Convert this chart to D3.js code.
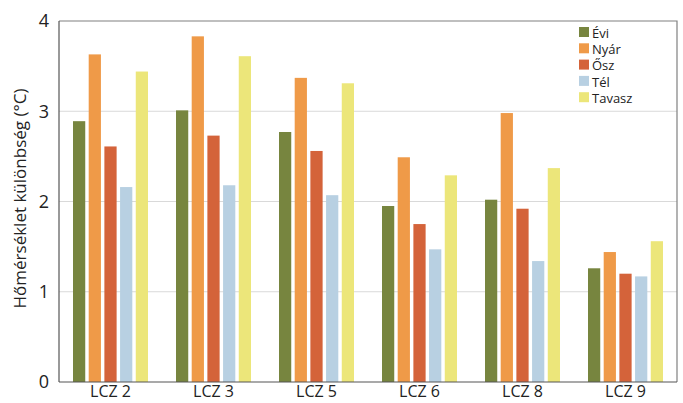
<!DOCTYPE html>
<html><head><meta charset="utf-8">
<script src="https://cdn.jsdelivr.net/npm/d3@7"></script>
<style>body{margin:0;background:#fff;} svg{display:block;}</style>
</head><body>
<script>
const categories = ["LCZ 2","LCZ 3","LCZ 5","LCZ 6","LCZ 8","LCZ 9"];
const seriesNames = ["Évi","Nyár","Ősz","Tél","Tavasz"];
const evi    = [2.89, 3.01, 2.77, 1.95, 2.02, 1.26];
const nyar   = [3.63, 3.83, 3.37, 2.49, 2.98, 1.44];
const osz    = [2.61, 2.73, 2.56, 1.75, 1.92, 1.20];
const tel    = [2.16, 2.18, 2.07, 1.47, 1.34, 1.17];
const tavasz = [3.44, 3.61, 3.31, 2.29, 2.37, 1.56];
const yTicks = [0,1,2,3,4];
const colors = ["#77853f","#ef9a48","#d4633a","#b8d0e2","#ece67a"];
const seriesValues = [evi, nyar, osz, tel, tavasz];

const W=683,H=403;
const m={l:59,r:6,t:21,b:21};
const svg=d3.select("body").append("svg").attr("width",W).attr("height",H);
const x0=d3.scaleBand().domain(categories).range([m.l,W-m.r]).paddingInner(0.272).paddingOuter(0.136);
const x1=d3.scaleBand().domain(seriesNames).range([0,x0.bandwidth()]).paddingInner(0.22);
const y=d3.scaleLinear().domain([0,4]).range([H-m.b,m.t]);
const font="'Open Sans', sans-serif";
const narrow="'Liberation Sans Narrow','Open Sans',sans-serif";

// gridlines
svg.append("g").selectAll("line").data(yTicks.filter(d=>d>0&&d<4)).join("line")
  .attr("x1",m.l).attr("x2",W-m.r).attr("y1",d=>y(d)).attr("y2",d=>y(d))
  .attr("stroke","#d9d9d9").attr("stroke-width",1.2);

// bars
const data=[];
categories.forEach((c,i)=>seriesNames.forEach((s,j)=>data.push({c,s,j,v:seriesValues[j][i]})));
svg.append("g").selectAll("rect").data(data).join("rect")
  .attr("x",d=>x0(d.c)+x1(d.s)).attr("width",x1.bandwidth())
  .attr("y",d=>y(d.v)).attr("height",d=>y(0)-y(d.v))
  .attr("fill",d=>colors[d.j]);

// frame
svg.append("path").attr("d",`M${m.l},${m.t}H${W-m.r}V${H-m.b}`).attr("fill","none").attr("stroke","#808080").attr("stroke-width",1.2);
svg.append("line").attr("x1",m.l).attr("x2",m.l).attr("y1",m.t).attr("y2",H-m.b).attr("stroke","#555").attr("stroke-width",1.2);
svg.append("line").attr("x1",m.l).attr("x2",W-m.r).attr("y1",H-m.b).attr("y2",H-m.b).attr("stroke","#555").attr("stroke-width",1.2);

// y axis
const ya=svg.append("g").attr("transform",`translate(${m.l},0)`).call(d3.axisLeft(y).tickValues(yTicks).tickSize(0).tickPadding(10).tickFormat(d3.format("d")));
ya.select(".domain").remove();
ya.selectAll("text").attr("font-family",font).attr("font-size",18).attr("fill","#222");

// x axis
const xa=svg.append("g").attr("transform",`translate(0,${H-m.b})`).call(d3.axisBottom(x0).tickSize(0).tickPadding(4));
xa.select(".domain").remove();
xa.selectAll("text").attr("font-family",narrow).attr("font-size",16).attr("fill","#222");

// y title
svg.append("text").attr("transform",`translate(26,${(m.t+H-m.b)/2 - 3}) rotate(-90)`)
  .attr("text-anchor","middle").attr("font-family",font).attr("font-size",17).attr("fill","#222")
  .text("Hőmérséklet különbség (°C)");

// legend
const lg=svg.append("g").attr("transform","translate(579,26)");
seriesNames.forEach((s,j)=>{
  const g=lg.append("g").attr("transform",`translate(0,${j*16.3})`);
  g.append("rect").attr("y",1).attr("width",10).attr("height",10).attr("fill",colors[j]);
  g.append("text").attr("x",13).attr("y",7).attr("dy","0.36em").attr("font-family",narrow).attr("font-size",13).attr("fill","#222").text(s);
});
</script>
</body></html>
